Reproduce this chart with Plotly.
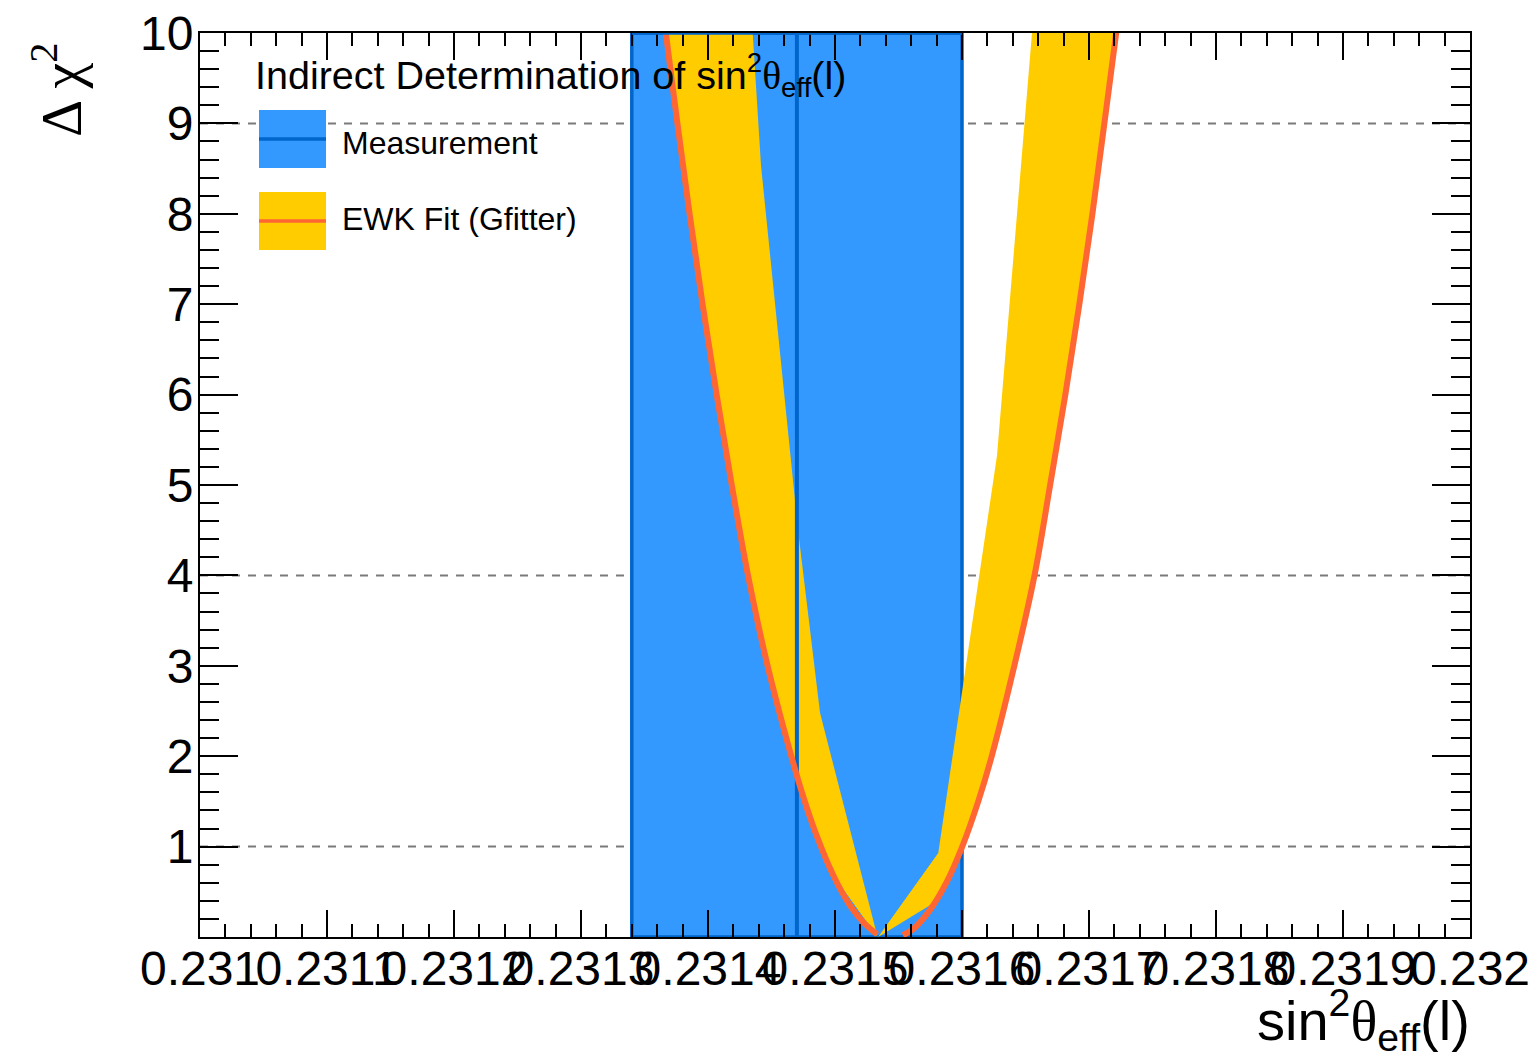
import plotly.graph_objects as go

# ---- data -------------------------------------------------------------
# Direct measurement of sin^2 theta_eff(l): central value and 1-sigma error
meas_center = 0.23147
meas_err = 0.00013

# EWK fit (Gfitter) Delta chi^2 profile: left and right branches
fit_left_x = [0.2313624, 0.2313668, 0.2313759, 0.2313855, 0.2313957, 0.2314068,
              0.2314187, 0.2314315, 0.2314469, 0.2314650, 0.2314754, 0.2314856,
              0.2314987, 0.2315118, 0.2315228, 0.2315331]
fit_left_y = [10.5, 10.0, 9.0, 8.0, 7.0, 6.0,
              5.0, 4.0, 3.0, 2.03, 1.535, 1.118,
              0.68, 0.348, 0.155, 0.03]
fit_right_x = [0.2315535, 0.2315617, 0.2315748, 0.2315880, 0.2316002, 0.2316128,
               0.2316234, 0.2316412, 0.2316571, 0.2316694, 0.2316814, 0.2316924,
               0.2317027, 0.2317121, 0.2317214, 0.2317258]
fit_right_y = [0.02, 0.09, 0.30, 0.61, 1.0, 1.5,
               2.0, 3.0, 4.0, 5.0, 6.0, 7.0,
               8.0, 9.0, 10.0, 10.5]

# Theory-uncertainty band of the fit (yellow)
band_left_inner_x = [0.2315335, 0.2314882, 0.2314709, 0.2314417, 0.2314352]
band_left_inner_y = [0.0, 2.48, 4.50, 8.54, 10.0]
band_right_inner_x = [0.2316551, 0.2316276, 0.2315813, 0.2315340]
band_right_inner_y = [10.0, 5.33, 0.93, 0.0]
band_right_low_x = [0.2315340, 0.2315748]
band_right_low_y = [0.0, 0.35]

# Reference Delta chi^2 levels
chi2_levels = [1, 4, 9]

# Axis ticks
x_tickvals = [0.2310, 0.2311, 0.2312, 0.2313, 0.2314, 0.2315, 0.2316, 0.2317, 0.2318, 0.2319, 0.2320]
x_ticktext = ["0.231", "0.2311", "0.2312", "0.2313", "0.2314", "0.2315",
              "0.2316", "0.2317", "0.2318", "0.2319", "0.232"]
y_tickvals = [1, 2, 3, 4, 5, 6, 7, 8, 9, 10]
y_ticktext = ["1", "2", "3", "4", "5", "6", "7", "8", "9", "10"]

# ---- style ------------------------------------------------------------
BLUE = "#3399FF"
BLUE_DARK = "#0066CC"
YELLOW = "#FFCC00"
ORANGE = "#FF6633"
FONT = "Liberation Sans, Arial, Helvetica, sans-serif"
SERIF = "Liberation Serif, Times New Roman, serif"

X0, X1 = 0.231, 0.232
Y0, Y1 = 0.0, 10.0

fig = go.Figure()

# yellow band, left part: outer edge follows the fit curve down to Delta chi^2 ~ 0.7
N_LEFT_OUTER = 13
left_poly_x = fit_left_x[1:N_LEFT_OUTER] + band_left_inner_x
left_poly_y = fit_left_y[1:N_LEFT_OUTER] + band_left_inner_y
fig.add_trace(go.Scatter(x=left_poly_x, y=left_poly_y, mode="lines", fill="toself",
                         fillcolor=YELLOW, line=dict(width=0), hoverinfo="skip",
                         showlegend=False))
# yellow band, right part
K_RIGHT_OUTER = 3
right_poly_x = band_right_low_x + fit_right_x[K_RIGHT_OUTER:-1] + band_right_inner_x
right_poly_y = band_right_low_y + fit_right_y[K_RIGHT_OUTER:-1] + band_right_inner_y
fig.add_trace(go.Scatter(x=right_poly_x, y=right_poly_y, mode="lines", fill="toself",
                         fillcolor=YELLOW, line=dict(width=0), hoverinfo="skip",
                         showlegend=False))

# measurement central value
fig.add_trace(go.Scatter(x=[meas_center, meas_center], y=[Y0, Y1], mode="lines",
                         line=dict(color=BLUE_DARK, width=4), hoverinfo="skip",
                         showlegend=False))

# fit Delta chi^2 curve
fig.add_trace(go.Scatter(x=fit_left_x + [None] + fit_right_x,
                         y=fit_left_y + [None] + fit_right_y,
                         mode="lines", connectgaps=False,
                         line=dict(color=ORANGE, width=6, shape="spline", smoothing=1.0),
                         hoverinfo="skip", showlegend=False))

shapes = []
# dashed reference levels
for lv in chi2_levels:
    shapes.append(dict(type="line", xref="x", yref="y", x0=X0, x1=X1, y0=lv, y1=lv,
                       line=dict(color="#7a7a7a", width=2, dash="8px,8px"), layer="below"))
# measurement band
shapes.append(dict(type="rect", xref="x", yref="y",
                   x0=meas_center - meas_err, x1=meas_center + meas_err, y0=Y0, y1=Y1,
                   fillcolor=BLUE, line=dict(color=BLUE_DARK, width=3.5), layer="below"))
shapes.append(dict(type="line", xref="x", yref="y",
                   x0=meas_center - meas_err, x1=meas_center + meas_err, y0=Y1, y1=Y1,
                   line=dict(color=BLUE_DARK, width=3.5), layer="above"))


def px_to_paper(px, py):
    """Convert window pixel position to paper coordinates of the plot frame."""
    return (px - 200) / 1270.0, (937 - py) / 904.0


# legend symbols
lx0, _ = px_to_paper(259, 0)
lx1, _ = px_to_paper(326, 0)
for (top, bot, mid, fc, lc) in [(110, 168, 139, BLUE, BLUE_DARK), (192, 250, 221, YELLOW, ORANGE)]:
    _, yt = px_to_paper(0, top)
    _, yb = px_to_paper(0, bot)
    _, ym = px_to_paper(0, mid)
    shapes.append(dict(type="rect", xref="paper", yref="paper", x0=lx0, x1=lx1, y0=yb, y1=yt,
                       fillcolor=fc, line=dict(width=0), layer="above"))
    shapes.append(dict(type="line", xref="paper", yref="paper", x0=lx0, x1=lx1, y0=ym, y1=ym,
                       line=dict(color=lc, width=3.5), layer="above"))

annotations = []
hx, hy = px_to_paper(253, 75)
annotations.append(dict(xref="paper", yref="paper", x=hx, y=hy, xanchor="left", yanchor="middle",
                        showarrow=False, font=dict(family=FONT, size=39.5, color="black"),
                        text="Indirect Determination of sin<sup>2</sup>"
                             "<span style='font-family:Liberation Serif'>θ</span><sub>eff</sub>(l)"))
tx, ty = px_to_paper(340, 143)
annotations.append(dict(xref="paper", yref="paper", x=tx, y=ty, xanchor="left", yanchor="middle",
                        showarrow=False, font=dict(family=FONT, size=32, color="black"),
                        text="Measurement"))
tx, ty = px_to_paper(340, 219)
annotations.append(dict(xref="paper", yref="paper", x=tx, y=ty, xanchor="left", yanchor="middle",
                        showarrow=False, font=dict(family=FONT, size=32, color="black"),
                        text="EWK Fit (Gfitter)"))
# x axis title
ax, ay = px_to_paper(1472, 979)
annotations.append(dict(xref="paper", yref="paper", x=ax, y=ay, xanchor="right", yanchor="top",
                        showarrow=False, font=dict(family=FONT, size=56, color="black"),
                        text="sin<sup>2</sup><span style='font-family:Liberation Serif'>θ</span>"
                             "<sub>eff</sub>(l)"))
# y axis title
bx, by = px_to_paper(57, 90)
annotations.append(dict(xref="paper", yref="paper", x=bx, y=by, xanchor="center", yanchor="middle",
                        showarrow=False, textangle=-90,
                        font=dict(family=SERIF, size=58, color="black"),
                        text="Δ χ<sup>2</sup>"))

axis_common = dict(showgrid=False, zeroline=False, showline=True, linecolor="black",
                   linewidth=2, mirror="allticks", ticks="inside", tickcolor="black",
                   tickwidth=2, tickfont=dict(family=FONT, size=48, color="black"),
                   automargin=False, tickangle=0)

fig.update_layout(
    width=1538, height=1062, autosize=False,
    margin=dict(l=200, r=68, t=33, b=125),
    paper_bgcolor="white", plot_bgcolor="white",
    shapes=shapes, annotations=annotations, showlegend=False,
    xaxis=dict(range=[X0, X1], tickmode="array", tickvals=x_tickvals, ticktext=x_ticktext,
               ticklen=27, ticklabelstandoff=-12,
               minor=dict(ticks="inside", ticklen=13, tickwidth=2, tickcolor="black",
                          tickmode="linear", tick0=X0, dtick=0.00002),
               **axis_common),
    yaxis=dict(range=[Y0, Y1], tickmode="array", tickvals=y_tickvals, ticktext=y_ticktext,
               ticklen=38, ticklabelstandoff=-5,
               minor=dict(ticks="inside", ticklen=19, tickwidth=2, tickcolor="black",
                          tickmode="linear", tick0=0, dtick=0.2),
               **axis_common),
)

fig.write_html("out.html")
